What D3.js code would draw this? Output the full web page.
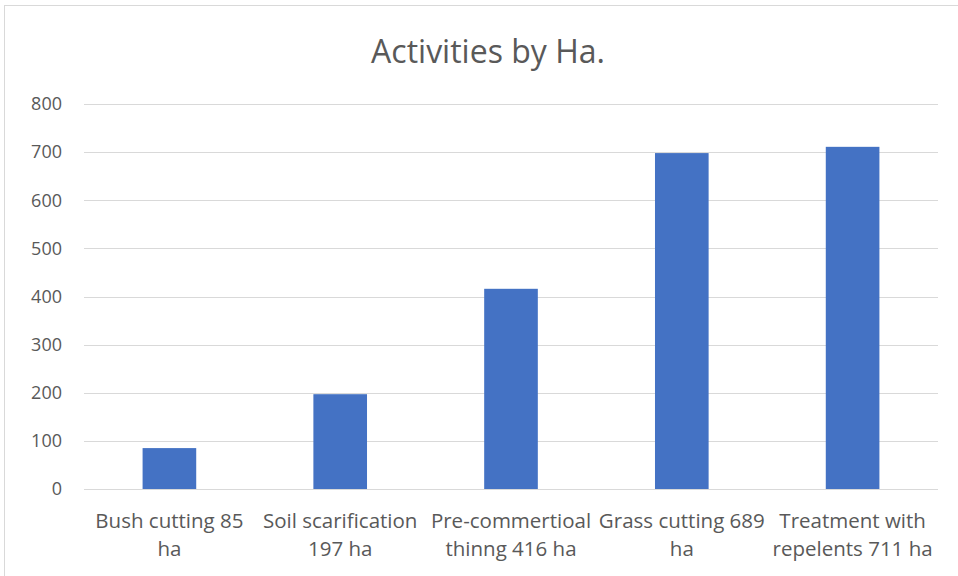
<!DOCTYPE html>
<meta charset="utf-8">
<style>
  body { margin: 0; background: white; }
  svg { display: block; }
  text { font-family: "Open Sans", sans-serif; fill: #595959; }
  .grid line { stroke: #d9d9d9; stroke-width: 1; shape-rendering: crispEdges; }
  .y-axis path, .y-axis line { stroke: none; }
</style>
<body>
<div id="chart"></div>
<script src="https://d3js.org/d3.v7.min.js"></script>
<script>
// data
var categories = ["Bush cutting 85 ha", "Soil scarification 197 ha", "Pre-commertioal thinng 416 ha",
                  "Grass cutting 689 ha", "Treatment with repelents 711 ha"];
var labelLines = [["Bush cutting 85", "ha"], ["Soil scarification", "197 ha"], ["Pre-commertioal", "thinng 416 ha"],
                  ["Grass cutting 689", "ha"], ["Treatment with", "repelents 711 ha"]];
var values = [85, 197, 416, 698, 711];
var yTicks = [0, 100, 200, 300, 400, 500, 600, 700, 800];

var W = 958, H = 576;
var margin = {top: 104, right: 20, bottom: 87, left: 84};
var width = 938 - margin.left,
    height = 489 - margin.top;

var svg = d3.select("#chart").append("svg")
    .attr("width", W)
    .attr("height", H);

// chart border
svg.append("rect")
    .attr("x", 4.5).attr("y", 5.5)
    .attr("width", W + 20).attr("height", H + 20)
    .attr("fill", "white")
    .attr("stroke", "#d9d9d9");

svg.append("text")
    .attr("x", 488).attr("y", 63)
    .attr("text-anchor", "middle")
    .style("font-size", "32px")
    .text("Activities by Ha.");

var g = svg.append("g")
    .attr("transform", "translate(" + margin.left + "," + margin.top + ")");

var x = d3.scaleBand().domain(categories).range([0, width]).padding(0);
var y = d3.scaleLinear().domain([0, 800]).range([height, 0]);

// gridlines
g.append("g").attr("class", "grid")
  .selectAll("line").data(yTicks).enter().append("line")
    .attr("x1", 0).attr("x2", width)
    .attr("y1", function(d) { return Math.round(y(d)) + 0.5; })
    .attr("y2", function(d) { return Math.round(y(d)) + 0.5; });

// y axis labels
g.append("g").attr("class", "y-axis")
    .attr("transform", "translate(-22,0)")
    .call(d3.axisLeft(y).tickValues(yTicks).tickSize(0).tickPadding(0))
    .call(function(s) { s.select(".domain").remove(); })
    .selectAll("text")
    .style("font-size", "18px")
    .attr("fill", "#595959");

// bars
var barW = x.bandwidth() * 0.314;
g.selectAll(".bar").data(values).enter().append("rect")
    .attr("class", "bar")
    .attr("x", function(d, i) { return x(categories[i]) + (x.bandwidth() - barW) / 2; })
    .attr("y", function(d) { return y(d); })
    .attr("width", barW)
    .attr("height", function(d) { return height - y(d); })
    .attr("fill", "#4472c4");

// category labels
var lab = g.selectAll(".cat").data(categories).enter().append("text")
    .attr("class", "cat")
    .attr("text-anchor", "middle")
    .attr("transform", function(d) { return "translate(" + (x(d) + x.bandwidth() / 2) + "," + (height + 39) + ")"; })
    .style("font-size", "20.5px");

lab.selectAll("tspan").data(function(d, i) { return labelLines[i]; }).enter().append("tspan")
    .attr("x", 0)
    .attr("dy", function(d, i) { return i === 0 ? 0 : 28; })
    .text(function(d) { return d; });
</script>
</body>
